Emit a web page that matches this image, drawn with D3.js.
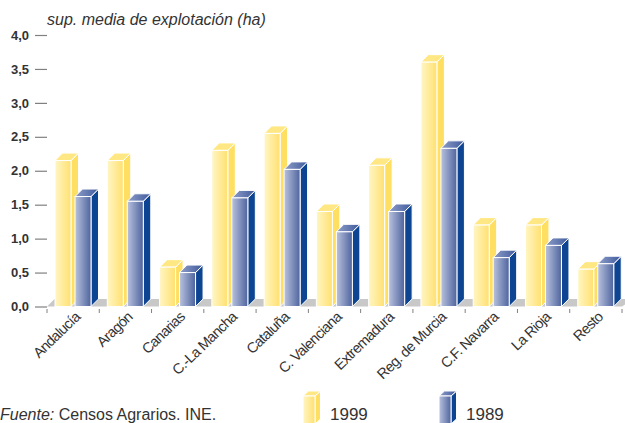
<!DOCTYPE html>
<html>
<head>
<meta charset="utf-8">
<script src="https://cdn.jsdelivr.net/npm/d3@7"></script>
<style>
html, body { margin: 0; padding: 0; background: #fff; }
svg { display: block; font-family: "Liberation Sans", Arial, sans-serif; }
.tick text { fill: #333; }
.ylab text { font-weight: bold; font-size: 13px; }
.xlab { font-size: 14.5px; letter-spacing: -0.65px; fill: #333; }
</style>
</head>
<body>
<div id="svg_container"></div>
<script>
/* -----------------------
data
------------------------- */

var categories = ["Andalucía", "Aragón", "Canarias", "C.-La Mancha", "Cataluña", "C. Valenciana",
	"Extremadura", "Reg. de Murcia", "C.F. Navarra", "La Rioja", "Resto"];
var values1999 = [2.15, 2.15, 0.58, 2.30, 2.55, 1.40, 2.08, 3.60, 1.20, 1.20, 0.55];
var values1989 = [1.62, 1.55, 0.50, 1.60, 2.02, 1.10, 1.40, 2.33, 0.72, 0.90, 0.63];
var seriesNames = ["1999", "1989"];
var yTicks = [0, 0.5, 1, 1.5, 2, 2.5, 3, 3.5, 4];

/* -----------------------
main variables
------------------------- */

var width = 625;
var height = 423;
var depth = 7.5;
var rise = 7.5;

var svg = d3.select("#svg_container")
	.append("svg")
	.attr("width", width)
	.attr("height", height)
	.attr("viewBox", "0 0 " + width + " " + height);

var y = d3.scaleLinear().domain([0, 4]).range([306.5, 35]);
var x0 = d3.scaleBand().domain(categories).range([47, 622]);
var x1 = d3.scaleBand().domain(seriesNames).range([8, 44]).paddingInner(0.2);

/* -----------------------
gradients
------------------------- */

var defs = svg.append("defs");

function gradient(id, from, to) {
	var g = defs.append("linearGradient").attr("id", id);
	g.append("stop").attr("offset", "0%").attr("stop-color", from);
	g.append("stop").attr("offset", "100%").attr("stop-color", to);
}

gradient("frontY", "#fff6c4", "#ffe070");
gradient("frontB", "#b9c2de", "#4e649e");
gradient("topB", "#8e9dc8", "#3f5b9c");

var colors = {
	"1999": { front: "url(#frontY)", side: "#ffdf62", top: "#ffe883" },
	"1989": { front: "url(#frontB)", side: "#0d4592", top: "url(#topB)" }
};

function pts(list) {
	return list.map(function (p) { return p.join(","); }).join(" ");
}

// one 3d box: front, side and top faces
function box(parent, bx, by, w, h, c, dx, dy) {
	parent.append("polygon")
		.attr("points", pts([[bx + w, by], [bx + w + dx, by - dy], [bx + w + dx, by + h - dy], [bx + w, by + h]]))
		.attr("fill", c.side).attr("stroke", "#fff").attr("stroke-width", 1);
	parent.append("polygon")
		.attr("points", pts([[bx, by], [bx + dx, by - dy], [bx + w + dx, by - dy], [bx + w, by]]))
		.attr("fill", c.top).attr("stroke", "#fff").attr("stroke-width", 1);
	parent.append("rect")
		.attr("x", bx).attr("y", by).attr("width", w).attr("height", h)
		.attr("fill", c.front).attr("stroke", "#fff").attr("stroke-width", 1);
}

/* -----------------------
floor
------------------------- */

svg.append("polygon")
	.attr("points", pts([[47, y(0)], [47 + depth, y(0) - rise], [width + 8, y(0) - rise], [622, y(0)]]))
	.attr("fill", "#c8c8c8");

/* -----------------------
axes
------------------------- */

var yAxis = d3.axisLeft(y)
	.tickValues(yTicks)
	.tickSize(12)
	.tickPadding(6)
	.tickFormat(function (d) { return d3.format(".1f")(d).replace(".", ","); });

var yG = svg.append("g")
	.attr("class", "ylab")
	.attr("transform", "translate(47,0)")
	.call(yAxis);
yG.select(".domain").remove();
yG.selectAll("line").attr("stroke", "#808080").attr("stroke-width", 1.2);

// small ticks between the groups
svg.append("g").selectAll("line")
	.data(categories.concat(["end"]))
	.enter()
	.append("line")
	.attr("x1", function (d, i) { return 47 + x0.step() * i; })
	.attr("x2", function (d, i) { return 47 + x0.step() * i; })
	.attr("y1", 309)
	.attr("y2", 313)
	.attr("stroke", "#808080");

svg.append("g").selectAll("text")
	.data(categories)
	.enter()
	.append("text")
	.attr("class", "xlab")
	.attr("text-anchor", "end")
	.attr("transform", function (d) {
		return "translate(" + (x0(d) + x0.bandwidth() / 2 + 8) + ",318) rotate(-44)";
	})
	.text(function (d) { return d; });

/* -----------------------
bars
------------------------- */

var plot = svg.append("g");

categories.forEach(function (c, i) {
	[values1999[i], values1989[i]].forEach(function (v, k) {
		var s = seriesNames[k];
		box(plot, x0(c) + x1(s), y(v), x1.bandwidth(), y(0) - y(v), colors[s], depth, rise);
	});
});

/* -----------------------
texts and legend
------------------------- */

svg.append("text")
	.attr("x", 47).attr("y", 25)
	.attr("font-size", 16).attr("font-style", "italic").attr("fill", "#333")
	.text("sup. media de explotación (ha)");

var source = svg.append("text")
	.attr("x", 0).attr("y", 420)
	.attr("font-size", 16).attr("fill", "#333");
source.append("tspan").attr("font-style", "italic").text("Fuente:");
source.append("tspan").text(" Censos Agrarios. INE.");

var legendX = d3.scalePoint().domain(seriesNames).range([303, 439]);

seriesNames.forEach(function (s) {
	box(svg, legendX(s), 396, 12, 28, colors[s], 5.5, 5);
	svg.append("text")
		.attr("x", legendX(s) + 27).attr("y", 420)
		.attr("font-size", 17).attr("fill", "#333")
		.text(s);
});
</script>
</body>
</html>
